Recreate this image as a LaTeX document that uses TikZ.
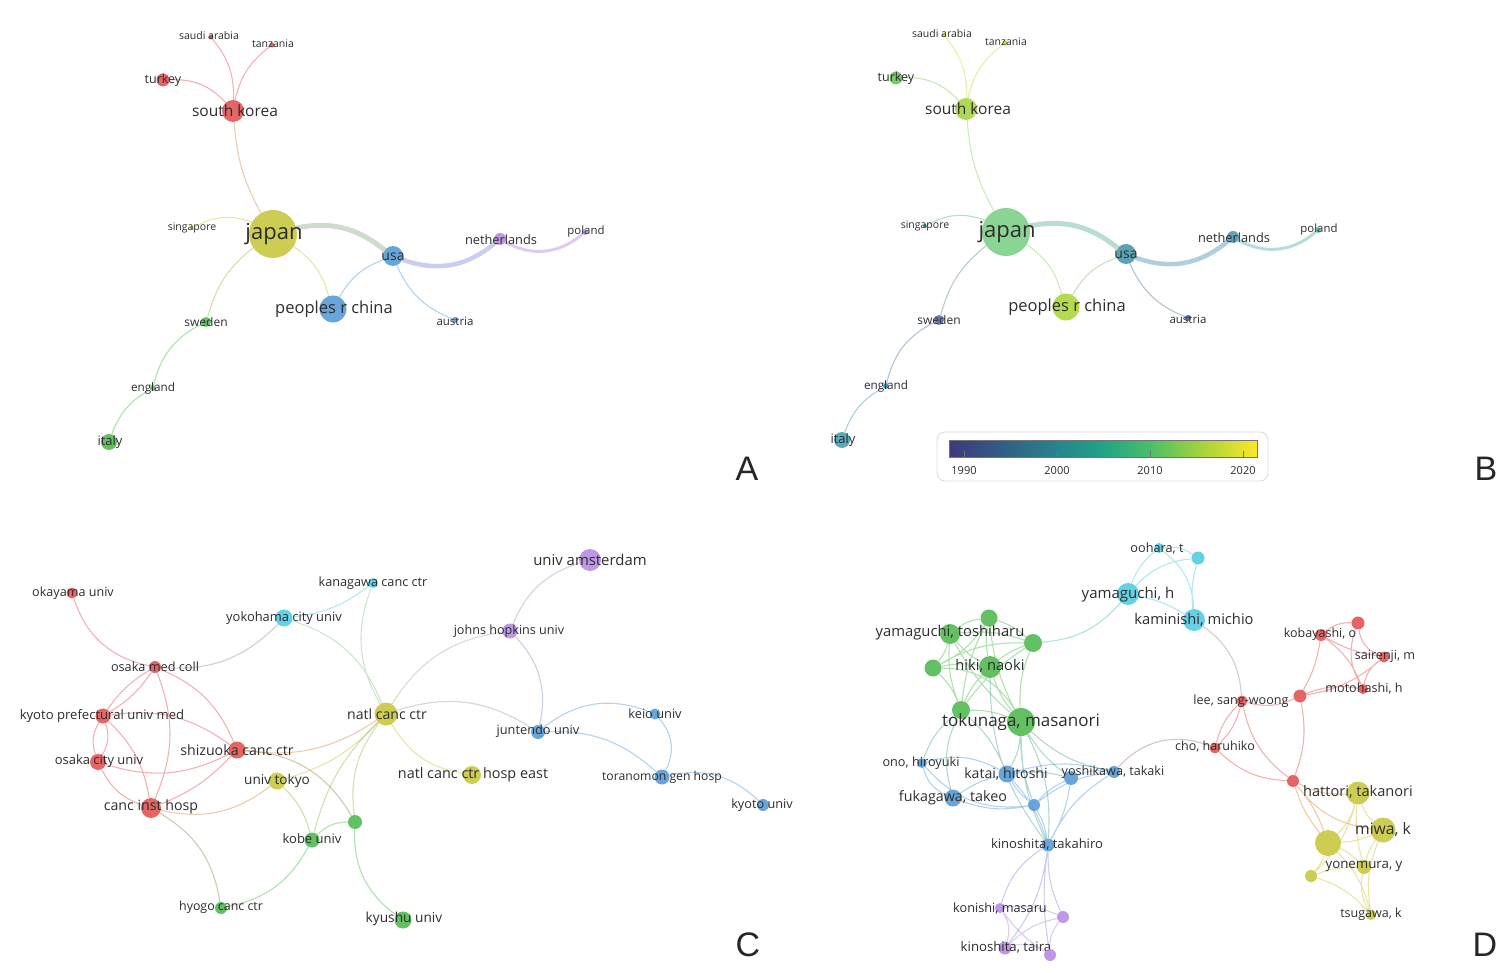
\documentclass[tikz,border=0pt]{standalone}
\usepackage{fontspec}
\setmainfont{Open Sans}
\newfontfamily\panelfont{Liberation Sans}

\definecolor{vred}{RGB}{226,84,84}
\definecolor{vgreen}{RGB}{82,186,82}
\definecolor{vblue}{RGB}{88,155,215}
\definecolor{vyellow}{RGB}{200,200,64}
\definecolor{vpurple}{RGB}{183,140,226}
\definecolor{vcyan}{RGB}{84,204,226}
\definecolor{lbltext}{RGB}{45,45,45}
% overlay colours (panel B)
\definecolor{yJapan}{RGB}{125,208,135}
\definecolor{ySkorea}{RGB}{165,212,70}
\definecolor{yChina}{RGB}{172,215,58}
\definecolor{yUsa}{RGB}{72,152,172}
\definecolor{yNeth}{RGB}{85,150,185}
\definecolor{yPoland}{RGB}{95,200,160}
\definecolor{yAustria}{RGB}{80,88,158}
\definecolor{ySweden}{RGB}{90,110,172}
\definecolor{yEngland}{RGB}{62,140,170}
\definecolor{yItaly}{RGB}{75,160,180}
\definecolor{yTurkey}{RGB}{105,195,95}
\definecolor{ySaudi}{RGB}{235,225,40}
\definecolor{yTanz}{RGB}{185,220,60}
\definecolor{ySing}{RGB}{45,165,150}

\pgfdeclarehorizontalshading{viridis}{100bp}{rgb(0bp)=(.24,.22,.49); rgb(25bp)=(.24,.22,.49);
  rgb(42.5bp)=(.15,.52,.55); rgb(50bp)=(.13,.64,.52); rgb(57.5bp)=(.30,.74,.42); rgb(65bp)=(.60,.82,.25);
  rgb(75bp)=(.99,.91,.15); rgb(100bp)=(.99,.91,.15)}

\pgfdeclarelayer{edges}
\pgfsetlayers{edges,main}

\tikzset{
  dot/.style={circle, fill=#1, fill opacity=.9, inner sep=0pt},
  lbl/.style={font=\fontsize{#1}{#1}\selectfont, text=lbltext, inner sep=0pt},
  lnk/.style={draw=#1, draw opacity=.45, line width=1.1pt},
  panel letter/.style={font=\panelfont\fontsize{34}{34}\selectfont, text=black!85, inner sep=0pt},
}

\begin{document}
\begin{tikzpicture}[x=1pt, y=-1pt]
  \useasboundingbox (0,0) rectangle (1499,973);

  % ---- A
  \node[dot=vred, minimum size=5] (saudiA) at (211,37) {}; \node[lbl=10.5] (saudiAt) at (209,36) {saudi arabia};
  \node[dot=vred, minimum size=5] (tanzA) at (272,45) {}; \node[lbl=10.5] (tanzAt) at (273,44) {tanzania};
  \node[dot=vred, minimum size=13] (turkeyA) at (163,80) {}; \node[lbl=12.5] (turkeyAt) at (163,80) {turkey};
  \node[dot=vred, minimum size=22] (skoreaA) at (233,111) {}; \node[lbl=15.5] (skoreaAt) at (235,111) {south korea};
  \node[dot=vyellow, minimum size=48] (japanA) at (273,234) {}; \node[lbl=22] (japanAt) at (274,234) {japan};
  \node[dot=vyellow, minimum size=4] (singA) at (192,228) {}; \node[lbl=10.5] (singAt) at (192,228) {singapore};
  \node[dot=vblue, minimum size=20] (usaA) at (393,256) {}; \node[lbl=14] (usaAt) at (393,257) {usa};
  \node[dot=vpurple, minimum size=12] (nethA) at (500,239) {}; \node[lbl=12.8] (nethAt) at (501,240) {netherlands};
  \node[dot=vpurple, minimum size=6] (polandA) at (585,232) {}; \node[lbl=11.4] (polandAt) at (586,232) {poland};
  \node[dot=vblue, minimum size=27] (chinaA) at (333,309) {}; \node[lbl=16.5] (chinaAt) at (334,309) {peoples r china};
  \node[dot=vblue, minimum size=6] (austriaA) at (455,320) {}; \node[lbl=11.5] (austriaAt) at (455,321) {austria};
  \node[dot=vgreen, minimum size=10] (swedenA) at (206,322) {}; \node[lbl=12] (swedenAt) at (206,322) {sweden};
  \node[dot=vgreen, minimum size=6] (englandA) at (153,388) {}; \node[lbl=11.7] (englandAt) at (153,388) {england};
  \node[dot=vgreen, minimum size=16] (italyA) at (109,442) {}; \node[lbl=13] (italyAt) at (110,442) {italy};
  \node[panel letter] (letA) at (747,469) {A};

  \begin{pgfonlayer}{edges}
    \draw[lnk=vred] (saudiA) to[bend left=20] (skoreaA) (tanzA) to[bend right=20] (skoreaA)
      (turkeyA) to[bend left=25] (skoreaA);
    \draw[lnk=vred!50!vyellow] (skoreaA) to[bend right=12] (japanA);
    \draw[lnk=vyellow] (singA) to[bend left=25] (japanA) (japanA) to[bend left=20] (chinaA);
    \draw[lnk=vyellow!50!vblue, line width=5] (japanA) to[bend left=25] (usaA);
    \draw[lnk=vblue!50!vpurple, line width=4.5] (usaA) to[bend right=30] (nethA);
    \draw[lnk=vpurple, line width=3] (nethA) to[bend right=35] (polandA);
    \draw[lnk=vblue] (usaA) to[bend right=20] (chinaA) (usaA) to[bend right=22] (austriaA);
    \draw[lnk=vyellow!50!vgreen] (japanA) to[bend right=18] (swedenA);
    \draw[lnk=vgreen] (swedenA) to[bend right=25] (englandA) (englandA) to[bend right=20] (italyA);
  \end{pgfonlayer}

  % ---- B
  \node[dot=ySaudi, minimum size=5] (saudiB) at (944,35) {}; \node[lbl=10.5] (saudiBt) at (942,34) {saudi arabia};
  \node[dot=yTanz, minimum size=5] (tanzB) at (1005,43) {}; \node[lbl=10.5] (tanzBt) at (1006,42) {tanzania};
  \node[dot=yTurkey, minimum size=13] (turkeyB) at (896,78) {}; \node[lbl=12.5] (turkeyBt) at (896,78) {turkey};
  \node[dot=ySkorea, minimum size=22] (skoreaB) at (966,109) {}; \node[lbl=15.5] (skoreaBt) at (968,109) {south korea};
  \node[dot=yJapan, minimum size=48] (japanB) at (1006,232) {}; \node[lbl=22] (japanBt) at (1007,232) {japan};
  \node[dot=ySing, minimum size=4] (singB) at (925,226) {}; \node[lbl=10.5] (singBt) at (925,226) {singapore};
  \node[dot=yUsa, minimum size=20] (usaB) at (1126,254) {}; \node[lbl=14] (usaBt) at (1126,255) {usa};
  \node[dot=yNeth, minimum size=12] (nethB) at (1233,237) {}; \node[lbl=12.8] (nethBt) at (1234,238) {netherlands};
  \node[dot=yPoland, minimum size=6] (polandB) at (1318,230) {}; \node[lbl=11.4] (polandBt) at (1319,230) {poland};
  \node[dot=yChina, minimum size=27] (chinaB) at (1066,307) {}; \node[lbl=16.5] (chinaBt) at (1067,307) {peoples r china};
  \node[dot=yAustria, minimum size=6] (austriaB) at (1188,318) {}; \node[lbl=11.5] (austriaBt) at (1188,319) {austria};
  \node[dot=ySweden, minimum size=10] (swedenB) at (939,320) {}; \node[lbl=12] (swedenBt) at (939,320) {sweden};
  \node[dot=yEngland, minimum size=6] (englandB) at (886,386) {}; \node[lbl=11.7] (englandBt) at (886,386) {england};
  \node[dot=yItaly, minimum size=16] (italyB) at (842,440) {}; \node[lbl=13] (italyBt) at (843,440) {italy};
  \node[panel letter] (letB) at (1486,469) {B};

  \begin{pgfonlayer}{edges}
    \draw[lnk=ySaudi!60!ySkorea] (saudiB) to[bend left=20] (skoreaB);
    \draw[lnk=yTanz] (tanzB) to[bend right=20] (skoreaB);
    \draw[lnk=yTurkey!50!ySkorea] (turkeyB) to[bend left=25] (skoreaB);
    \draw[lnk=ySkorea!50!yJapan] (skoreaB) to[bend right=12] (japanB);
    \draw[lnk=ySing!50!yJapan] (singB) to[bend left=25] (japanB);
    \draw[lnk=yJapan!50!yChina] (japanB) to[bend left=20] (chinaB);
    \draw[lnk=yJapan!50!yUsa, line width=5] (japanB) to[bend left=25] (usaB);
    \draw[lnk=yUsa!70!yNeth, line width=4.5] (usaB) to[bend right=30] (nethB);
    \draw[lnk=yNeth!40!yPoland, line width=3] (nethB) to[bend right=35] (polandB);
    \draw[lnk=yUsa!40!yChina] (usaB) to[bend right=20] (chinaB);
    \draw[lnk=yUsa!50!yAustria] (usaB) to[bend right=22] (austriaB);
    \draw[lnk=yJapan!30!ySweden] (japanB) to[bend right=18] (swedenB);
    \draw[lnk=ySweden!50!yEngland] (swedenB) to[bend right=25] (englandB);
    \draw[lnk=yEngland!50!yItaly] (englandB) to[bend right=20] (italyB);
  \end{pgfonlayer}

  % colour scale
  \draw[rounded corners=8, draw=black!15, line width=.8] (937,432) rectangle (1268,481);
  \shadedraw[shading=viridis, draw=black!55, line width=.6] (949,440) rectangle (1257,457);
  \draw[black!55, line width=.6] (964,451) -- (964,458) (1057,451) -- (1057,458) (1150,451) -- (1150,458) (1243,451) -- (1243,458);
  \node[lbl=11] (yr1990) at (964,471) {1990}; \node[lbl=11] (yr2000) at (1057,471) {2000};
  \node[lbl=11] (yr2010) at (1150,471) {2010}; \node[lbl=11] (yr2020) at (1243,471) {2020};

  % ---- C
  \node[dot=vred, minimum size=11] (okayama) at (72,593) {}; \node[lbl=12.6] (okayamat) at (73,593) {okayama univ};
  \node[dot=vcyan, minimum size=10] (kanagawa) at (373,583) {}; \node[lbl=12.7] (kanagawat) at (373,583) {kanagawa canc ctr};
  \node[dot=vcyan, minimum size=17] (yokohama) at (284,618) {}; \node[lbl=12.9] (yokohamat) at (284,618) {yokohama city univ};
  \node[dot=vpurple, minimum size=22] (amsterdam) at (590,560) {}; \node[lbl=14.9] (amsterdamt) at (590,560) {univ amsterdam};
  \node[dot=vpurple, minimum size=15] (hopkins) at (510,631) {}; \node[lbl=12.6] (hopkinst) at (509,631) {johns hopkins univ};
  \node[dot=vred, minimum size=12] (osakamed) at (155,667) {}; \node[lbl=12.7] (osakamedt) at (155,667) {osaka med coll};
  \node[dot=vred, minimum size=15] (kyotopref) at (103,716) {}; \node[lbl=13.1] (kyotopreft) at (102,716) {kyoto prefectural univ med};
  \node[dot=vyellow, minimum size=23] (natl) at (386,714) {}; \node[lbl=14.1] (natlt) at (387,714) {natl canc ctr};
  \node[dot=vblue, minimum size=11] (keio) at (655,714) {}; \node[lbl=12.8] (keiot) at (655,714) {keio univ};
  \node[dot=vblue, minimum size=14] (juntendo) at (538,732) {}; \node[lbl=12.8] (juntendot) at (538,731) {juntendo univ};
  \node[dot=vred, minimum size=17] (shizuoka) at (237,750) {}; \node[lbl=14.2] (shizuokat) at (237,750) {shizuoka canc ctr};
  \node[dot=vred, minimum size=16] (osakacity) at (98,762) {}; \node[lbl=13] (osakacityt) at (99,761) {osaka city univ};
  \node[dot=vyellow, minimum size=17] (tokyo) at (277,781) {}; \node[lbl=13.6] (tokyot) at (277,781) {univ tokyo};
  \node[dot=vyellow, minimum size=18] (natleast) at (472,775) {}; \node[lbl=14.4] (natleastt) at (473,775) {natl canc ctr hosp east};
  \node[dot=vblue, minimum size=15] (toranomon) at (662,777) {}; \node[lbl=12.2] (toranomont) at (662,777) {toranomon gen hosp};
  \node[dot=vblue, minimum size=12] (kyotouniv) at (763,805) {}; \node[lbl=12.7] (kyotounivt) at (762,805) {kyoto univ};
  \node[dot=vred, minimum size=20] (cancinst) at (151,808) {}; \node[lbl=14.2] (cancinstt) at (151,807) {canc inst hosp};
  \node[dot=vgreen, minimum size=14] (greenC) at (355,822) {};
  \node[dot=vgreen, minimum size=15] (kobe) at (312,840) {}; \node[lbl=13] (kobet) at (312,839) {kobe univ};
  \node[dot=vgreen, minimum size=12] (hyogo) at (221,908) {}; \node[lbl=12.4] (hyogot) at (221,907) {hyogo canc ctr};
  \node[dot=vgreen, minimum size=17] (kyushu) at (403,920) {}; \node[lbl=13.7] (kyushut) at (404,919) {kyushu univ};
  \node[panel letter] (letC) at (748,945) {C};

  \begin{pgfonlayer}{edges}
    \draw[lnk=vred] (okayama) to[bend right=30] (osakamed)
      (osakamed) to[bend left=12] (kyotopref) (osakamed) to[bend right=12] (kyotopref)
      (osakamed) to[bend left=22] (shizuoka) (osakamed) to[bend left=22] (cancinst)
      (kyotopref) to[bend right=25] (osakacity) (kyotopref) to[bend left=25] (osakacity)
      (kyotopref) to[bend left=22] (shizuoka) (kyotopref) to[bend left=18] (cancinst)
      (osakacity) to[bend right=22] (shizuoka) (osakacity) to[bend right=22] (cancinst)
      (shizuoka) to[bend left=12] (cancinst);
    \draw[lnk=vred!50!vcyan] (osakamed) to[bend right=25] (yokohama);
    \draw[lnk=vcyan] (yokohama) to[bend right=15] (kanagawa);
    \draw[lnk=vcyan!50!vyellow] (yokohama) to[bend left=25] (natl) (kanagawa) to[bend right=25] (natl);
    \draw[lnk=vred!50!vyellow] (shizuoka) to[bend right=20] (natl) (cancinst) to[bend right=25] (tokyo);
    \draw[lnk=vred!50!vgreen] (shizuoka) to[bend left=28] (greenC) (cancinst) to[bend left=25] (hyogo);
    \draw[lnk=vyellow] (tokyo) to[bend right=15] (natl) (natl) to[bend right=25] (natleast);
    \draw[lnk=vyellow!50!vgreen] (tokyo) to[bend left=15] (kobe) (natl) to[bend right=15] (kobe)
      (natl) to[bend right=22] (greenC);
    \draw[lnk=vyellow!50!vpurple] (natl) to[bend left=25] (hopkins);
    \draw[lnk=vyellow!50!vblue] (natl) to[bend left=25] (juntendo);
    \draw[lnk=vgreen] (kobe) to[bend left=22] (greenC) (kobe) to[bend left=25] (hyogo)
      (greenC) to[bend right=28] (kyushu);
    \draw[lnk=vpurple] (hopkins) to[bend left=25] (amsterdam);
    \draw[lnk=vpurple!50!vblue] (hopkins) to[bend left=28] (juntendo);
    \draw[lnk=vblue] (juntendo) to[bend left=30] (keio) (juntendo) to[bend left=22] (toranomon)
      (keio) to[bend left=35] (toranomon) (toranomon) to[bend left=28] (kyotouniv);
  \end{pgfonlayer}

  % ---- D
  \node[dot=vcyan, minimum size=10] (oohara) at (1159,548) {}; \node[lbl=12.7] (ooharat) at (1157,548) {oohara, t};
  \node[dot=vcyan, minimum size=13] (cyanD) at (1198,558) {};
  \node[dot=vcyan, minimum size=22] (yamah) at (1128,594) {}; \node[lbl=15] (yamaht) at (1128,595) {yamaguchi, h};
  \node[dot=vcyan, minimum size=22] (kaminishi) at (1194,620) {}; \node[lbl=14.7] (kaminishit) at (1194,620) {kaminishi, michio};
  \node[dot=vgreen, minimum size=20] (ytoshi) at (950,634) {}; \node[lbl=14.8] (ytoshit) at (950,633) {yamaguchi, toshiharu};
  \node[dot=vgreen, minimum size=17] (greenA) at (989,618) {};
  \node[dot=vgreen, minimum size=18] (greenB) at (1033,643) {};
  \node[dot=vgreen, minimum size=22] (hiki) at (990,667) {}; \node[lbl=14.7] (hikit) at (990,666) {hiki, naoki};
  \node[dot=vgreen, minimum size=17] (greenD) at (933,668) {};
  \node[dot=vgreen, minimum size=18] (greenE) at (961,710) {};
  \node[dot=vgreen, minimum size=28] (tokunaga) at (1021,722) {}; \node[lbl=17] (tokunagat) at (1021,722) {tokunaga, masanori};
  \node[dot=vblue, minimum size=10] (ono) at (922,763) {}; \node[lbl=12.7] (onot) at (921,763) {ono, hiroyuki};
  \node[dot=vblue, minimum size=17] (katai) at (1007,774) {}; \node[lbl=14.1] (kataitt) at (1006,774) {katai, hitoshi};
  \node[dot=vblue, minimum size=14] (blueA) at (1071,778) {};
  \node[dot=vblue, minimum size=12] (yoshikawa) at (1114,772) {}; \node[lbl=12.6] (yoshikawat) at (1113,772) {yoshikawa, takaki};
  \node[dot=vblue, minimum size=17] (fukagawa) at (953,798) {}; \node[lbl=14.3] (fukagawat) at (953,798) {fukagawa, takeo};
  \node[dot=vblue, minimum size=12] (blueB) at (1034,805) {};
  \node[dot=vblue, minimum size=13] (kinotaka) at (1048,845) {}; \node[lbl=13] (kinotakat) at (1047,844) {kinoshita, takahiro};
  \node[dot=vpurple, minimum size=10] (konishi) at (1000,908) {}; \node[lbl=12.7] (konishit) at (1000,908) {konishi, masaru};
  \node[dot=vpurple, minimum size=12] (purpleA) at (1063,917) {};
  \node[dot=vpurple, minimum size=13] (kinotaira) at (1005,948) {}; \node[lbl=13.2] (kinotairat) at (1006,947) {kinoshita, taira};
  \node[dot=vpurple, minimum size=12] (purpleB) at (1050,955) {};
  \node[dot=vred, minimum size=12] (kobayashi) at (1321,635) {}; \node[lbl=12.5] (kobayashit) at (1320,634) {kobayashi, o};
  \node[dot=vred, minimum size=13] (redA) at (1358,623) {};
  \node[dot=vred, minimum size=11] (sairenji) at (1384,657) {}; \node[lbl=12.6] (sairenjit) at (1385,656) {sairenji, m};
  \node[dot=vred, minimum size=10] (motohashi) at (1363,689) {}; \node[lbl=12.6] (motohashit) at (1364,689) {motohashi, h};
  \node[dot=vred, minimum size=13] (redB) at (1300,696) {};
  \node[dot=vred, minimum size=11] (lee) at (1242,701) {}; \node[lbl=12.6] (leet) at (1241,701) {lee, sang-woong};
  \node[dot=vred, minimum size=11] (cho) at (1215,748) {}; \node[lbl=12.5] (chot) at (1215,747) {cho, haruhiko};
  \node[dot=vred, minimum size=12] (redC) at (1293,781) {};
  \node[dot=vyellow, minimum size=23] (hattori) at (1358,793) {}; \node[lbl=14.6] (hattorit) at (1358,792) {hattori, takanori};
  \node[dot=vyellow, minimum size=25] (miwa) at (1383,830) {}; \node[lbl=15.7] (miwat) at (1383,830) {miwa, k};
  \node[dot=vyellow, minimum size=26] (yellowA) at (1328,843) {};
  \node[dot=vyellow, minimum size=14] (yonemura) at (1364,867) {}; \node[lbl=13.3] (yonemurat) at (1364,866) {yonemura, y};
  \node[dot=vyellow, minimum size=12] (yellowB) at (1311,876) {};
  \node[dot=vyellow, minimum size=10] (tsugawa) at (1371,915) {}; \node[lbl=12.5] (tsugawat) at (1371,914) {tsugawa, k};
  \node[panel letter] (letD) at (1485,945) {D};

  \begin{pgfonlayer}{edges}
    \draw[lnk=vcyan] (oohara) to[bend left=20] (cyanD) (oohara) to[bend right=15] (yamah)
      (oohara) to[bend left=25] (kaminishi) (yamah) to[bend left=20] (cyanD)
      (cyanD) to[bend right=10] (kaminishi) (yamah) to[bend left=10] (kaminishi);
    \draw[lnk=vgreen!50!vcyan] (greenB) to[bend right=22] (yamah);
    \draw[lnk=vcyan!50!vred] (kaminishi) to[bend left=25] (lee);
    \draw[lnk=vgreen] (ytoshi) to[bend left=15] (greenA) (ytoshi) to[bend left=12] (greenB)
      (ytoshi) to[bend right=10] (hiki) (ytoshi) to[bend left=12] (greenD) (ytoshi) to[bend right=12] (greenE)
      (ytoshi) to[bend right=10] (tokunaga) (greenA) to[bend left=12] (greenB) (greenA) to[bend right=10] (hiki)
      (greenA) to[bend left=15] (greenD) (greenA) to[bend right=10] (greenE) (greenA) to[bend right=10] (tokunaga)
      (greenB) to[bend right=10] (hiki) (greenB) to[bend right=15] (greenD) (greenB) to[bend right=10] (greenE)
      (greenB) to[bend right=12] (tokunaga) (hiki) to[bend right=10] (greenD) (hiki) to[bend right=10] (greenE)
      (hiki) to[bend right=10] (tokunaga) (greenD) to[bend left=12] (greenE) (greenD) to[bend left=30] (tokunaga)
      (greenE) to[bend left=10] (tokunaga);
    \draw[lnk=vgreen!50!vblue] (tokunaga) to[bend left=12] (katai) (tokunaga) to[bend right=10] (blueA)
      (tokunaga) to[bend right=10] (blueB) (tokunaga) to[bend left=15] (kinotaka) (tokunaga) to[bend right=12] (kinotaka)
      (tokunaga) to[bend right=15] (yoshikawa) (greenE) to[bend right=20] (fukagawa) (greenE) to[bend left=12] (katai)
      (greenE) to[bend right=15] (ono) (hiki) to[bend right=18] (kinotaka);
    \draw[lnk=vblue] (ono) to[bend left=22] (katai) (ono) to[bend right=25] (fukagawa)
      (katai) to[bend right=10] (fukagawa) (katai) to[bend left=10] (blueA) (katai) to[bend left=15] (yoshikawa)
      (katai) to[bend right=10] (blueB) (katai) to[bend left=12] (kinotaka) (fukagawa) to[bend right=15] (blueB)
      (blueA) to[bend right=10] (blueB) (blueB) to[bend left=15] (yoshikawa) (blueA) to[bend left=15] (yoshikawa)
      (kinotaka) to[bend right=10] (blueA) (kinotaka) to[bend left=15] (yoshikawa) (kinotaka) to[bend right=10] (blueB)
      (ono) to[bend right=28] (blueB);
    \draw[lnk=vblue!50!vred] (yoshikawa) to[bend left=35] (cho);
    \draw[lnk=vblue!50!vpurple] (kinotaka) to[bend right=20] (konishi) (kinotaka) to[bend right=12] (purpleA)
      (kinotaka) to[bend left=15] (kinotaira) (kinotaka) to[bend right=8] (purpleB);
    \draw[lnk=vpurple] (konishi) to[bend left=15] (purpleA) (konishi) to[bend left=25] (kinotaira)
      (konishi) to[bend right=10] (purpleB) (purpleA) to[bend right=15] (kinotaira)
      (purpleA) to[bend right=20] (purpleB) (kinotaira) to[bend left=25] (purpleB);
    \draw[lnk=vred] (kobayashi) to[bend left=20] (redA) (kobayashi) to[bend right=10] (sairenji)
      (kobayashi) to[bend left=15] (motohashi) (kobayashi) to[bend left=10] (redB)
      (redA) to[bend right=30] (sairenji) (redA) to[bend right=25] (motohashi) (sairenji) to[bend right=20] (motohashi)
      (sairenji) to[bend left=15] (redB) (motohashi) to[bend right=15] (redB) (redB) to[bend left=20] (lee)
      (lee) to[bend right=15] (cho) (lee) to[bend left=15] (cho) (lee) to[bend right=20] (redC)
      (redB) to[bend left=15] (redC) (cho) to[bend right=20] (redC);
    \draw[lnk=vred!50!vyellow] (redC) to[bend right=15] (hattori) (redC) to[bend right=10] (yellowA)
      (redC) to[bend left=10] (yellowA) (redC) to[bend right=22] (miwa);
    \draw[lnk=vyellow] (hattori) to[bend right=15] (miwa) (hattori) to[bend left=15] (yellowA)
      (hattori) to[bend right=10] (yonemura) (hattori) to[bend left=15] (yellowB) (miwa) to[bend left=10] (yellowA)
      (miwa) to[bend right=10] (yonemura) (miwa) to[bend right=15] (tsugawa) (yellowA) to[bend left=10] (yonemura)
      (yellowA) to[bend left=10] (yellowB) (yellowA) to[bend left=15] (tsugawa) (yonemura) to[bend right=10] (yellowB)
      (yonemura) to[bend right=20] (tsugawa) (yellowB) to[bend left=15] (tsugawa);
  \end{pgfonlayer}
\end{tikzpicture}
\end{document}
